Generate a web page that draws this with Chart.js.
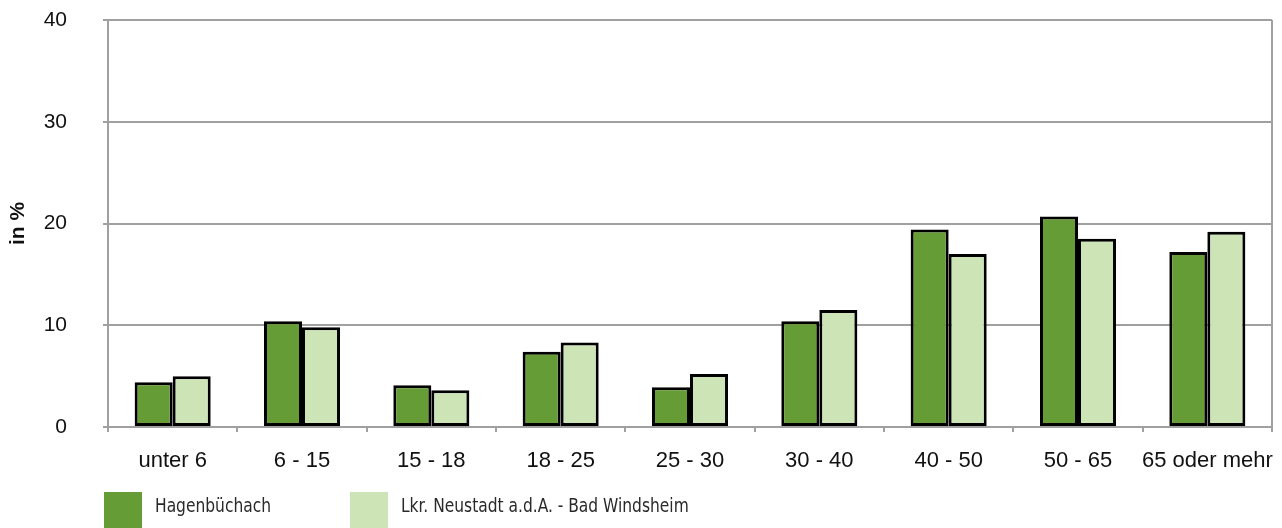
<!DOCTYPE html>
<html>
<head>
<meta charset="utf-8">
<script src="https://cdn.jsdelivr.net/npm/chart.js@4"></script>
<style>
  html, body { margin: 0; padding: 0; background: #fff; }
  #wrap { position: relative; width: 1282px; height: 528px; overflow: hidden; }
  #legend { position: absolute; left: 0; top: 492px; width: 1282px; height: 40px;
    font-family: "Liberation Sans Narrow", "DejaVu Sans Condensed", sans-serif; font-size: 20px; color: #2a2a2a; }
  .item { position: absolute; top: 0; height: 40px; }
  .box { position: absolute; left: 0; top: 0; width: 38px; height: 40px; }
  .lbl { position: absolute; left: 51px; top: 1px; white-space: nowrap; transform: scaleX(0.86); transform-origin: left top; }
</style>
</head>
<body>
<div id="wrap">
  <canvas id="chart" width="1282" height="528"></canvas>
  <div id="legend"></div>
</div>
<script>
// age groups
const categories = ['unter 6', '6 - 15', '15 - 18', '18 - 25', '25 - 30', '30 - 40', '40 - 50', '50 - 65', '65 oder mehr'];

// share in % per age group
const hagenbuechach = [4.4, 10.4, 4.1, 7.4, 3.9, 10.4, 19.4, 20.7, 17.2];
const landkreis = [5.0, 9.8, 3.6, 8.3, 5.2, 11.5, 17.0, 18.5, 19.2];

const seriesNames = ['Hagenbüchach', 'Lkr. Neustadt a.d.A. - Bad Windsheim'];
const seriesColors = ['#669c35', '#cde4b7'];

const yTicks = [0, 10, 20, 30, 40];

const gray = '#a0a0a0';
const fontFam = '"Liberation Sans", Arial, sans-serif';

// right edge of the plot frame
const frameRight = {
  id: 'frameRight',
  afterDraw(chart) {
    const {ctx, chartArea} = chart;
    ctx.save();
    ctx.strokeStyle = gray;
    ctx.lineWidth = 2;
    ctx.beginPath();
    ctx.moveTo(chartArea.right, chartArea.top);
    ctx.lineTo(chartArea.right, chartArea.bottom + 5);
    ctx.stroke();
    ctx.restore();
  }
};

const ctx = document.getElementById('chart');
const myChart = new Chart(ctx, {
  type: 'bar',
  data: {
    labels: categories,
    datasets: [{
      label: seriesNames[0],
      data: hagenbuechach,
      backgroundColor: seriesColors[0],
      borderColor: '#000',
      borderWidth: 3,
      borderSkipped: false
    }, {
      label: seriesNames[1],
      data: landkreis,
      backgroundColor: seriesColors[1],
      borderColor: '#000',
      borderWidth: 3,
      borderSkipped: false
    }]
  },
  options: {
    responsive: false,
    animation: false,
    categoryPercentage: 0.588,
    barPercentage: 1.0,
    layout: { padding: { top: 20, right: 10, left: 0, bottom: 0 } },
    plugins: {
      legend: { display: false },
      tooltip: { enabled: false }
    },
    scales: {
      x: {
        grid: { offset: true, drawOnChartArea: false, tickLength: 5, color: gray, lineWidth: 2 },
        border: { color: gray, width: 2 },
        ticks: { padding: 16, color: '#111', autoSkip: false, maxRotation: 0, minRotation: 0,
          font: { family: fontFam, size: 22 } },
        afterFit: (scale) => {
          scale.height = 101;
          scale.paddingLeft = 0;
          scale.paddingRight = 0;
        }
      },
      y: {
        min: 0,
        max: 40,
        afterBuildTicks: (scale) => { scale.ticks = yTicks.map(v => ({ value: v })); },
        grid: { color: gray, lineWidth: 2, tickLength: 5 },
        border: { color: gray, width: 2 },
        ticks: { padding: 36, color: '#111', font: { family: fontFam, size: 21 } },
        title: {
          display: true,
          text: 'in %',
          color: '#111',
          font: { family: fontFam, size: 21, weight: 'bold' },
          padding: { top: 6, bottom: 0 }
        },
        afterFit: (scale) => {
          scale.width = 108;
          scale.paddingTop = 0;
          scale.paddingBottom = 0;
        }
      }
    }
  },
  plugins: [frameRight]
});

//legend below the chart
const legendDiv = document.getElementById('legend');
const legendX = [104, 350];
seriesNames.forEach((name, i) => {
  const item = document.createElement('div');
  item.className = 'item';
  item.style.left = legendX[i] + 'px';
  const box = document.createElement('div');
  box.className = 'box';
  box.style.background = seriesColors[i];
  const lbl = document.createElement('span');
  lbl.className = 'lbl';
  lbl.textContent = name;
  item.appendChild(box);
  item.appendChild(lbl);
  legendDiv.appendChild(item);
});
</script>
</body>
</html>
